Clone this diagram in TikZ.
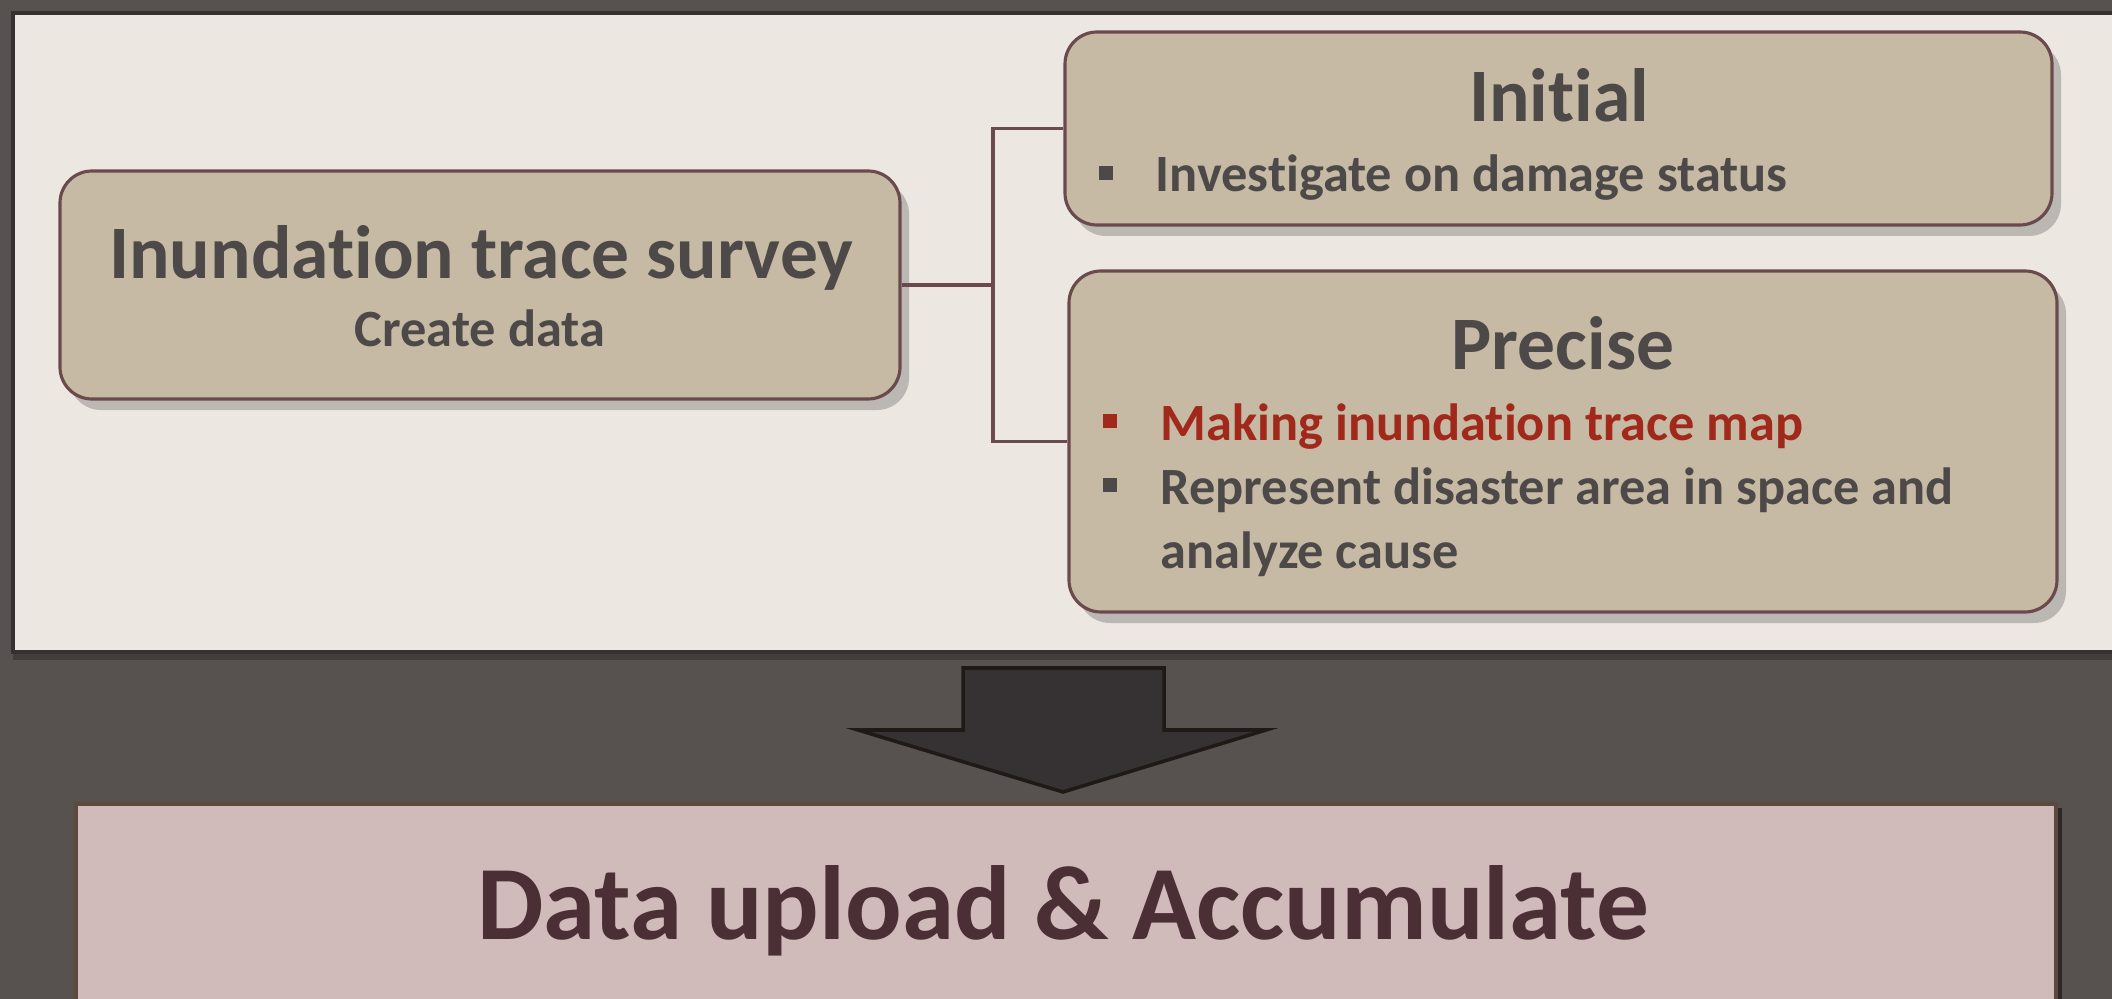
\documentclass[tikz,border=0pt]{standalone}
\usepackage{fontspec}
\setmainfont{Carlito}[Ligatures={NoCommon}]
\usetikzlibrary{shadows}

\definecolor{backdrop}{HTML}{575250}
\definecolor{panelfill}{HTML}{ECE7E1}
\definecolor{panelrim}{HTML}{363031}
\definecolor{boxfill}{HTML}{C7BAA4}
\definecolor{boxrim}{HTML}{6A4A4C}
\definecolor{inktext}{HTML}{4D4948}
\definecolor{inkred}{HTML}{A0291C}
\definecolor{arrowfill}{HTML}{363132}
\definecolor{arrowrim}{HTML}{1F1A16}
\definecolor{storefill}{HTML}{D1BABA}
\definecolor{storerim}{HTML}{5B4A3C}
\definecolor{storeink}{HTML}{4A3034}

\tikzset{
  surveybox/.style={draw=boxrim, fill=boxfill, line width=0.9pt, rounded corners=0.32cm,
    inner sep=0pt, drop shadow={shadow xshift=0.09cm, shadow yshift=-0.11cm, opacity=0.3, fill=black!70}},
  link/.style={draw=boxrim, line width=1.1pt},
  titletext/.style={text=inktext, font=\bfseries\fontsize{21.5}{25}\selectfont, inner sep=0pt},
  itemtext/.style={text=inktext, font=\bfseries\fontsize{14.9}{18.2}\selectfont, inner sep=0pt},
  bulletsq/.style={fill=inktext, minimum size=0.14cm, inner sep=0pt},
}

\begin{document}
\begin{tikzpicture}
    \useasboundingbox (0,0) rectangle (21.12,-9.99);
    \fill[backdrop] (0,0) rectangle (21.12,-9.99);

    % light panel
    \fill[panelfill, draw=panelrim, line width=1.2pt,
      drop shadow={shadow xshift=0cm, shadow yshift=-0.08cm, opacity=0.25, fill=black}]
      (0.13,-0.13) rectangle (21.4,-6.52);

    % survey and its two kinds
    \node[surveybox, minimum width=8.40cm, minimum height=2.28cm] (survey) at (4.80,-2.85) {};
    \node[surveybox, minimum width=9.87cm, minimum height=1.93cm] (initial) at (15.585,-1.285) {};
    \node[surveybox, minimum width=9.88cm, minimum height=3.41cm] (precise) at (15.63,-4.415) {};

    \node[titletext, anchor=base] (survey-title) at (4.81,-2.79) {Inundation trace survey};
    \node[itemtext, anchor=base]  (survey-sub)   at (4.80,-3.47) {Create data};

    \node[titletext, anchor=base] (initial-title) at (15.59,-1.22) {Initial};
    \node[bulletsq] (initial-dot) at (11.06,-1.735) {};
    \node[itemtext, anchor=base west] (initial-item) at (11.55,-1.92) {Investigate on damage status};

    \node[titletext, anchor=base] (precise-title) at (15.63,-3.70) {Precise};
    \node[bulletsq, fill=inkred] (map-dot) at (11.10,-4.21) {};
    \node[itemtext, anchor=base west, text=inkred] (map-item) at (11.60,-4.40) {Making inundation trace map};
    \node[bulletsq] (area-dot) at (11.10,-4.855) {};
    \node[itemtext, anchor=base west] (area-item) at (11.60,-5.04) {Represent disaster area in space and};
    \node[itemtext, anchor=base west] (area-more) at (11.60,-5.68) {analyze cause};

    % fork
    \coordinate (fork) at (9.93,-2.85);
    \draw[link] (survey.east) -- (fork) |- (initial.west);
    \draw[link] (fork) |- (precise.west);

    % block arrow down
    \draw[fill=arrowfill, draw=arrowrim, line width=1pt, line join=miter]
      (9.63,-6.68) -- (11.64,-6.68) -- (11.64,-7.30) -- (12.66,-7.30)
      -- (10.63,-7.92) -- (8.58,-7.30) -- (9.63,-7.30) -- cycle;

    % storage
    \node[fill=storefill, draw=storerim, line width=1pt, minimum width=19.80cm, minimum height=2.3cm,
      anchor=north west, inner sep=0pt,
      drop shadow={shadow xshift=0.06cm, shadow yshift=-0.04cm, opacity=0.5, fill=black}] (store) at (0.74,-8.02) {};
    \node[text=storeink, font=\bfseries\fontsize{30}{36}\selectfont, anchor=base, inner sep=0pt]
      (store-label) at (10.63,-9.39) {Data upload \& Accumulate};
\end{tikzpicture}
\end{document}
